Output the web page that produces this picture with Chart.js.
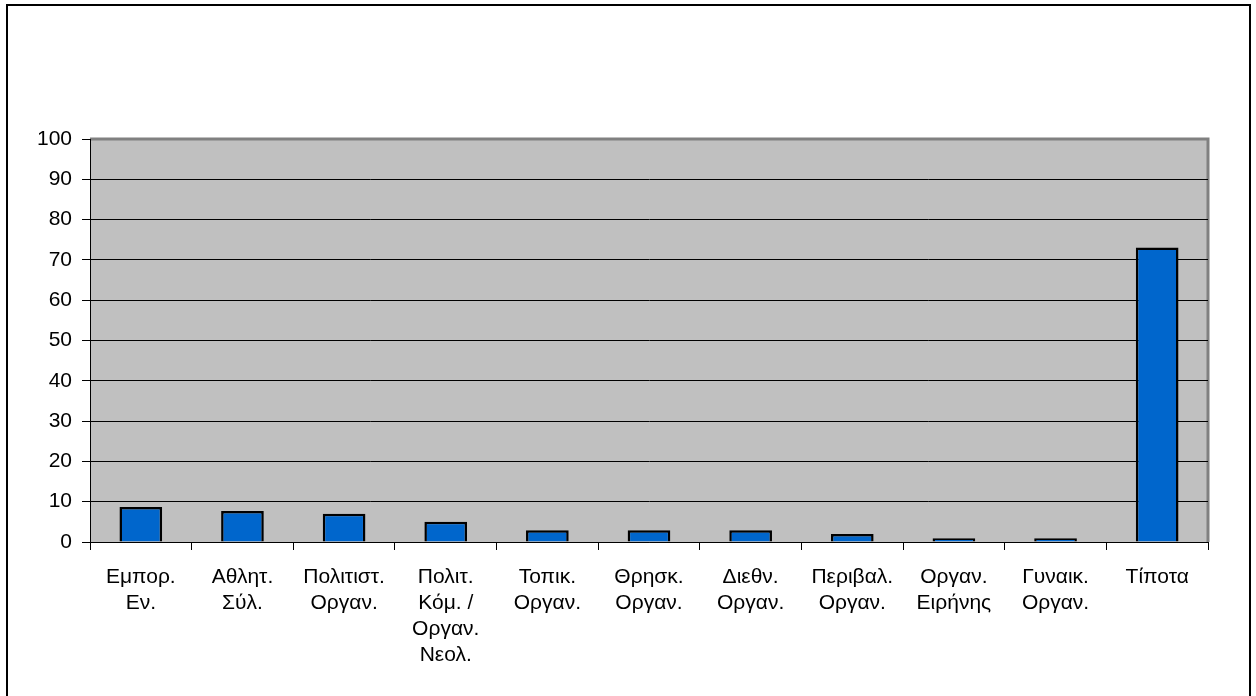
<!DOCTYPE html>
<html>
<head>
<meta charset="utf-8">
<script src="https://cdn.jsdelivr.net/npm/chart.js@4"></script>
<style>
  html, body { margin: 0; padding: 0; background: #fff; overflow: hidden; }
  #wrap { position: relative; width: 1256px; height: 696px; }
  #frame { position: absolute; left: 6px; top: 4px; width: 1245px; height: 720px; border: 2px solid #000; box-sizing: border-box; }
  canvas { position: absolute; left: 0; top: 0; }
</style>
</head>
<body>
<div id="wrap">
  <div id="frame"></div>
  <canvas id="chart" width="1256" height="696"></canvas>
</div>
<script>
const categories = [
  ['Εμπορ.', 'Εν.'],
  ['Αθλητ.', 'Σύλ.'],
  ['Πολιτιστ.', 'Οργαν.'],
  ['Πολιτ.', 'Κόμ. /', 'Οργαν.', 'Νεολ.'],
  ['Τοπικ.', 'Οργαν.'],
  ['Θρησκ.', 'Οργαν.'],
  ['Διεθν.', 'Οργαν.'],
  ['Περιβαλ.', 'Οργαν.'],
  ['Οργαν.', 'Ειρήνης'],
  ['Γυναικ.', 'Οργαν.'],
  ['Τίποτα']
];
const values = [8.7, 7.7, 7.0, 5.0, 2.9, 2.9, 2.9, 2.0, 0.9, 0.9, 73.1];
const yMax = 100;
const yStep = 10;

const plotBg = {
  id: 'plotBg',
  beforeDraw(chart) {
    const { ctx, chartArea: a } = chart;
    ctx.save();
    ctx.fillStyle = '#c0c0c0';
    ctx.fillRect(a.left, a.top, a.right - a.left, a.bottom - a.top);
    ctx.strokeStyle = '#808080';
    ctx.lineWidth = 3;
    ctx.beginPath();
    ctx.moveTo(a.left, a.top);
    ctx.lineTo(a.right, a.top);
    ctx.lineTo(a.right, a.bottom);
    ctx.stroke();
    ctx.restore();
  }
};

new Chart(document.getElementById('chart'), {
  type: 'bar',
  data: {
    labels: categories,
    datasets: [{
      data: values,
      backgroundColor: '#0066cc',
      borderColor: '#000',
      borderWidth: 2.5,
      barPercentage: 0.42,
      categoryPercentage: 1
    }]
  },
  options: {
    responsive: false,
    animation: false,
    layout: { padding: { top: 139, right: 48, left: 0, bottom: 0 } },
    plugins: { legend: { display: false }, tooltip: { enabled: false } },
    scales: {
      x: {
        afterFit(s) { s.height = 154; },
        grid: { drawOnChartArea: false, color: '#000', tickLength: 8, offset: true },
        border: { color: '#000', width: 1 },
        ticks: {
          color: '#000',
          maxRotation: 0,
          autoSkip: false,
          padding: 14,
          font: { family: 'Liberation Sans, Arial, sans-serif', size: 21, lineHeight: 1.24 }
        }
      },
      y: {
        min: 0,
        max: yMax,
        afterFit(s) { s.width = 90; },
        grid: {
          color: ctx => (ctx.tick && ctx.tick.value === yMax ? '#808080' : '#000'),
          tickColor: '#000',
          tickLength: 8,
          lineWidth: 1
        },
        border: { color: '#000', width: 1 },
        ticks: {
          stepSize: yStep,
          color: '#000',
          padding: 10,
          font: { family: 'Liberation Sans, Arial, sans-serif', size: 21 }
        }
      }
    }
  },
  plugins: [plotBg]
});
</script>
</body>
</html>
